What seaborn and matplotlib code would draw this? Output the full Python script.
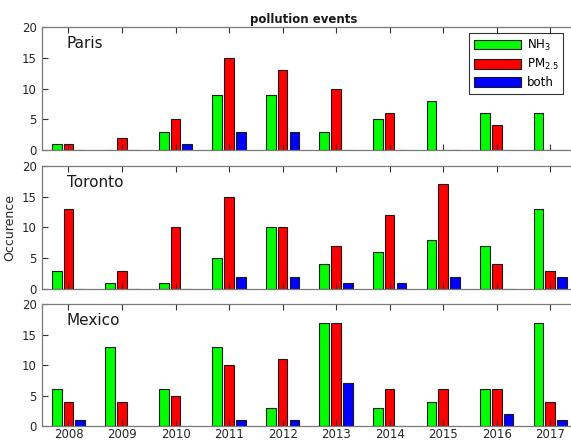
import matplotlib
matplotlib.use("Agg")
import matplotlib.pyplot as plt
import seaborn as sns
import pandas as pd

years = [2008, 2009, 2010, 2011, 2012, 2013, 2014, 2015, 2016, 2017]
cities = ["Paris", "Toronto", "Mexico"]
series = ["NH$_3$", "PM$_{2.5}$", "both"]

paris_nh3 = [1, 0, 3, 9, 9, 3, 5, 8, 6, 6]
paris_pm = [1, 2, 5, 15, 13, 10, 6, 0, 4, 0]
paris_both = [0, 0, 1, 3, 3, 0, 0, 0, 0, 0]

toronto_nh3 = [3, 1, 1, 5, 10, 4, 6, 8, 7, 13]
toronto_pm = [13, 3, 10, 15, 10, 7, 12, 17, 4, 3]
toronto_both = [0, 0, 0, 2, 2, 1, 1, 2, 0, 2]

mexico_nh3 = [6, 13, 6, 13, 3, 17, 3, 4, 6, 17]
mexico_pm = [4, 4, 5, 10, 11, 17, 6, 6, 6, 4]
mexico_both = [1, 0, 0, 1, 1, 7, 0, 0, 2, 1]

data = {
    "Paris": [paris_nh3, paris_pm, paris_both],
    "Toronto": [toronto_nh3, toronto_pm, toronto_both],
    "Mexico": [mexico_nh3, mexico_pm, mexico_both],
}

rows = []
for city in cities:
    for s, vals in zip(series, data[city]):
        for y, v in zip(years, vals):
            rows.append({"city": city, "series": s, "year": str(y), "count": v})
df = pd.DataFrame(rows)

palette = {series[0]: "#00ff00", series[1]: "#ff0000", series[2]: "#0000ff"}

fig = plt.figure(figsize=(5.71, 4.41), dpi=100)
positions = [
    [0.073, 0.660, 0.9375, 0.278],
    [0.073, 0.3447, 0.9375, 0.279],
    [0.073, 0.0340, 0.9375, 0.276],
]
spine_c = "#7a7a7a"
txt_c = "#262626"

axes = []
for i, city in enumerate(cities):
    ax = fig.add_axes(positions[i])
    axes.append(ax)
    sub = df[df["city"] == city]
    sns.barplot(data=sub, x="year", y="count", hue="series", hue_order=series,
                order=[str(y) for y in years], palette=palette, ax=ax,
                width=0.66, gap=0.18, edgecolor="#1a1a1a", linewidth=0.8,
                saturation=1, errorbar=None, legend=(i == 0))
    ax.set_xlim(-0.5, 9.5)
    ax.set_ylim(0, 20)
    ax.set_yticks([0, 5, 10, 15, 20])
    ax.set_xlabel("")
    ax.set_ylabel("")
    for sp in ax.spines.values():
        sp.set_color(spine_c)
        sp.set_linewidth(0.9)
    ax.tick_params(direction="in", top=True, right=True, length=4,
                   width=0.8, color="#333333", labelsize=8.5, labelcolor=txt_c)
    ax.tick_params(axis="x", pad=1.5)
    if i < 2:
        ax.tick_params(labelbottom=False)
    ax.text(0.047, 0.93, city, transform=ax.transAxes, fontsize=11,
            va="top", ha="left", color="#1a1a1a")

axes[1].set_ylabel("Occurence", fontsize=9, color=txt_c, labelpad=4)
fig.text(0.532, 1 - 22.7 / 441, "pollution events", fontsize=8.5,
         fontweight="bold", color="#1a1a1a", ha="center", va="baseline")

leg = axes[0].get_legend()
handles = leg.legend_handles
labels = [t.get_text() for t in leg.get_texts()]
leg.remove()
lg = axes[0].legend(handles, labels, loc="upper right",
                    bbox_to_anchor=(0.974, 0.955), borderaxespad=0,
                    fontsize=8.5, handlelength=4.0, handleheight=0.9,
                    labelspacing=0.35, handletextpad=0.5, borderpad=0.4,
                    fancybox=False, framealpha=1, edgecolor="#333333", title=None)
lg.get_frame().set_linewidth(0.8)

fig.savefig("out.png", dpi=100)
